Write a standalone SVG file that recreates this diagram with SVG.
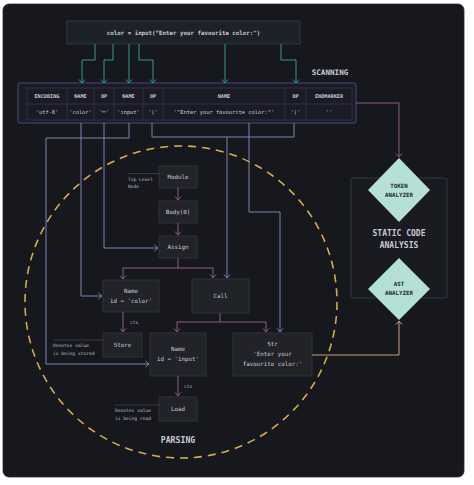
<svg xmlns="http://www.w3.org/2000/svg" width="474" height="485" viewBox="0 0 474 485">
<defs>
<style>
.t{font-family:"DejaVu Sans Mono","Liberation Mono",monospace;fill:#c9cad6;text-anchor:middle}
.n{font-size:5.8px}
.h{font-size:5.2px;font-weight:bold}
.d{font-size:5.4px}
.a{font-size:4.6px;text-anchor:start;fill:#b9bac6}
.node{fill:#212329;stroke:#34373f;stroke-width:0.8}
.teal{fill:none;stroke:#2f9a93;stroke-width:1}
.lav{fill:none;stroke:#7f82b8;stroke-width:1}
.pur{fill:none;stroke:#8c5a80;stroke-width:1}
.tan{fill:none;stroke:#caa077;stroke-width:1}
.cell{fill:none;stroke:#3a3a5c;stroke-width:0.7}
.dia{fill:#b5e0d6}
.dt{font-family:"DejaVu Sans Mono","Liberation Mono",monospace;font-size:5.8px;font-weight:bold;fill:#1e2a2a;text-anchor:middle}
</style>
<marker id="mt" markerWidth="8" markerHeight="8" refX="4" refY="4" orient="auto" markerUnits="userSpaceOnUse"><path d="M0.5,1 L4,4 L0.5,7" fill="none" stroke="#2f9a93" stroke-width="1"/></marker>
<marker id="ml" markerWidth="8" markerHeight="8" refX="4" refY="4" orient="auto" markerUnits="userSpaceOnUse"><path d="M0.5,1 L4,4 L0.5,7" fill="none" stroke="#7f82b8" stroke-width="1"/></marker>
<marker id="mp" markerWidth="8" markerHeight="8" refX="4" refY="4" orient="auto" markerUnits="userSpaceOnUse"><path d="M0.5,1 L4,4 L0.5,7" fill="none" stroke="#8c5a80" stroke-width="1"/></marker>
<marker id="mn" markerWidth="8" markerHeight="8" refX="4" refY="4" orient="auto" markerUnits="userSpaceOnUse"><path d="M0.5,1 L4,4 L0.5,7" fill="none" stroke="#caa077" stroke-width="1"/></marker>
</defs>
<rect x="0" y="0" width="474" height="485" fill="#ffffff"/>
<rect x="3" y="4" width="461" height="473" rx="6" fill="#17181d" stroke="#2a2b30" stroke-width="0.8"/>

<!-- dashed parsing circle -->
<circle cx="181" cy="302" r="156" fill="none" stroke="#d6ab4d" stroke-width="1.6" stroke-dasharray="8 6"/>

<g id="source">
<rect x="67" y="21" width="233" height="23" fill="#1d2128" stroke="#36454a" stroke-width="0.8"/>
<text class="t n" x="183.5" y="34.5" font-weight="bold">color = input(“Enter your favourite color:")</text>
</g>

<g id="token-table">
<rect x="18" y="83" width="338" height="40" rx="2" fill="#1b1b26" stroke="#4b4680" stroke-width="1"/>
<rect class="cell" x="27" y="88" width="325" height="32"/>
<line class="cell" x1="27" y1="104" x2="352" y2="104"/>
<line class="cell" x1="67" y1="88" x2="67" y2="120"/>
<line class="cell" x1="94" y1="88" x2="94" y2="120"/>
<line class="cell" x1="114" y1="88" x2="114" y2="120"/>
<line class="cell" x1="143" y1="88" x2="143" y2="120"/>
<line class="cell" x1="163" y1="88" x2="163" y2="120"/>
<line class="cell" x1="285" y1="88" x2="285" y2="120"/>
<line class="cell" x1="306" y1="88" x2="306" y2="120"/>
<text class="t h" x="47" y="98">ENCODING</text>
<text class="t h" x="80.5" y="98">NAME</text>
<text class="t h" x="104" y="98">OP</text>
<text class="t h" x="128.5" y="98">NAME</text>
<text class="t h" x="153" y="98">OP</text>
<text class="t h" x="224" y="98">NAME</text>
<text class="t h" x="295.5" y="98">OP</text>
<text class="t h" x="329" y="98">ENDMARKER</text>
<text class="t d" x="47" y="114">'utf-8'</text>
<text class="t d" x="80.5" y="114">'color'</text>
<text class="t d" x="104" y="114">'='</text>
<text class="t d" x="128.5" y="114">'input'</text>
<text class="t d" x="153" y="114">'('</text>
<text class="t d" x="224" y="114">'"Enter your favourite color:"'</text>
<text class="t d" x="295.5" y="114">')'</text>
<text class="t d" x="329" y="114">''</text>
</g>
<text class="t" x="330" y="75" font-size="7.6px" font-weight="bold">SCANNING</text>

<g id="analysis">
<rect x="351" y="178" width="96" height="120" rx="2" fill="#191b20" stroke="#2f4447" stroke-width="0.8"/>
<text class="t" x="399" y="236" font-size="8px" font-weight="bold">STATIC CODE</text>
<text class="t" x="399" y="248" font-size="8px" font-weight="bold">ANALYSIS</text>
</g>
<g id="token-analyzer">
<polygon class="dia" points="399,158 430,190 399,222 368,190"/>
<text class="dt" x="399" y="188">TOKEN</text>
<text class="dt" x="399" y="197">ANALYZER</text>
</g>
<g id="ast-analyzer">
<polygon class="dia" points="399,258 430,289 399,320 368,289"/>
<text class="dt" x="399" y="286">AST</text>
<text class="dt" x="399" y="295">ANALYZER</text>
</g>

<g id="module">
<rect class="node" x="159" y="166" width="38" height="22"/>
<text class="t n" x="178" y="179">Module</text>
</g>
<g id="note-top">
<line x1="128" y1="173.5" x2="159" y2="173.5" stroke="#555866" stroke-width="0.5"/>
<text class="t a" x="128" y="181">Top Level</text>
<text class="t a" x="128" y="188">Node</text>
</g>
<g id="body">
<rect class="node" x="159" y="201" width="38" height="22"/>
<text class="t n" x="178" y="214">Body(0)</text>
</g>
<g id="assign">
<rect class="node" x="159" y="236" width="38" height="22"/>
<text class="t n" x="178" y="249">Assign</text>
</g>
<g id="name-color">
<rect class="node" x="103" y="280" width="56" height="32"/>
<text class="t n" x="131" y="293">Name</text>
<text class="t n" x="131" y="303">id = 'color'</text>
</g>
<g id="call">
<rect class="node" x="192" y="279" width="57" height="34"/>
<text class="t n" x="220.5" y="298">Call</text>
</g>
<g id="store">
<rect class="node" x="103" y="333" width="39" height="24"/>
<text class="t n" x="122.5" y="347">Store</text>
</g>
<g id="note-store">
<line x1="53" y1="340" x2="103" y2="340" stroke="#555866" stroke-width="0.5"/>
<text class="t a" x="53" y="347">Denotes value</text>
<text class="t a" x="53" y="355">is being stored</text>
</g>
<g id="name-input">
<rect class="node" x="150" y="333" width="56" height="43"/>
<text class="t n" x="178" y="351">Name</text>
<text class="t n" x="178" y="361">id = 'input'</text>
</g>
<g id="str">
<rect class="node" x="233" y="333" width="79" height="43"/>
<text class="t n" x="272.5" y="346">Str</text>
<text class="t n" x="272.5" y="356">'Enter your</text>
<text class="t n" x="272.5" y="366">favourite color:'</text>
</g>
<g id="load">
<rect class="node" x="159" y="397" width="38" height="24"/>
<text class="t n" x="178" y="411">Load</text>
</g>
<g id="note-load">
<line x1="115" y1="405" x2="159" y2="405" stroke="#555866" stroke-width="0.5"/>
<text class="t a" x="115" y="412">Denotes value</text>
<text class="t a" x="115" y="420">is being read</text>
</g>
<text class="t" x="178" y="443" font-size="8.2px" font-weight="bold">PARSING</text>

<g id="connectors">
<!-- source to table -->
<path class="teal" d="M95,44 V60 H82 V83" marker-end="url(#mt)"/>
<path class="teal" d="M113,44 V60 H104 V83" marker-end="url(#mt)"/>
<path class="teal" d="M129,44 V83" marker-end="url(#mt)"/>
<path class="teal" d="M139,44 V60 H153 V83" marker-end="url(#mt)"/>
<path class="teal" d="M225,44 V83" marker-end="url(#mt)"/>
<path class="teal" d="M281,44 V60 H296 V83" marker-end="url(#mt)"/>
<!-- table to tree -->
<path class="lav" d="M81,123 V296 H102" marker-end="url(#ml)"/>
<path class="lav" d="M104,123 V248 H158" marker-end="url(#ml)"/>
<path class="lav" d="M129,123 V138 H46 V364 H149" marker-end="url(#ml)"/>
<path class="lav" d="M152,123 V137 H294 V123"/>
<path class="lav" d="M227,137 V278" marker-end="url(#ml)"/>
<path class="lav" d="M249,123 V212 H280 V332" marker-end="url(#ml)"/>
<!-- tree edges -->
<path class="pur" d="M178,188 V200" marker-end="url(#mp)"/>
<path class="pur" d="M178,223 V235" marker-end="url(#mp)"/>
<path class="pur" d="M178,258 V268 H123 V279" marker-end="url(#mp)"/>
<path class="pur" d="M178,268 H213 V278" marker-end="url(#mp)"/>
<path class="pur" d="M123,312 V332" marker-end="url(#mp)"/>
<path class="pur" d="M220,313 V322 H177 V332" marker-end="url(#mp)"/>
<path class="pur" d="M220,322 H266 V332" marker-end="url(#mp)"/>
<path class="pur" d="M178,376 V396" marker-end="url(#mp)"/>
<text class="t a" x="130" y="324">ctx</text>
<text class="t a" x="184" y="388">ctx</text>
<!-- to analyzers -->
<path class="pur" d="M356,103 H399 V157" marker-end="url(#mp)"/>
<path class="tan" d="M312,355 H399 V321" marker-end="url(#mn)"/>
</g>
</svg>
